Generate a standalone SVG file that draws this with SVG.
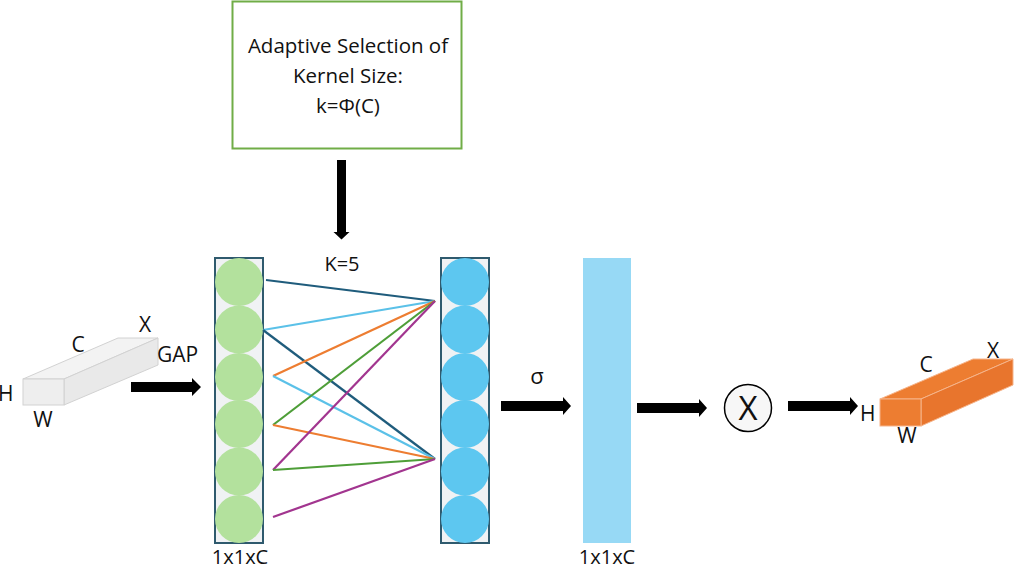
<svg xmlns="http://www.w3.org/2000/svg" width="1015" height="569" viewBox="0 0 1015 569">
<style>
  text { font-family: "Open Sans", "Liberation Sans", sans-serif; fill: #111; }
  .lbl { font-size: 21px; }
  .box { font-size: 20.5px; text-anchor: middle; }
  .dim { font-size: 20px; text-anchor: middle; }
  .col { fill: #F0F2F4; stroke: #2F5A6E; stroke-width: 2; }
  .g { fill: #B3E19D; }
  .b { fill: #5DC7F0; }
  .arr { fill: #000; }
  .ln { stroke-width: 2.2; fill: none; }
</style>
<rect width="1015" height="569" fill="#fff"/>

<g id="kernel-box">
  <rect x="232.5" y="1.5" width="229" height="147" fill="#fff" stroke="#70AD47" stroke-width="2"/>
  <text class="box" x="348" y="53">Adaptive Selection of</text>
  <text class="box" x="348" y="83">Kernel Size:</text>
  <text class="box" x="348" y="113">k=Φ(C)</text>
</g>

<g id="input-cube">
  <polygon points="23,379 118,338 158,338 64,379" fill="#F3F3F3" stroke="#D2D2D2" stroke-width="1"/>
  <polygon points="64,379 158,338 158,365 64,405" fill="#E9E9E9" stroke="#D2D2D2" stroke-width="1"/>
  <rect x="23" y="379" width="41" height="26" fill="#EEEEEE" stroke="#D2D2D2" stroke-width="1"/>
  <text class="lbl" x="-2" y="401">H</text>
  <text class="lbl" x="43" y="427" text-anchor="middle">W</text>
  <text class="lbl" x="78" y="352" text-anchor="middle">C</text>
  <text class="lbl" x="145" y="332" text-anchor="middle">X</text>
  <text class="lbl" x="157" y="362">GAP</text>
</g>

<g id="gap-vector">
  <rect class="col" x="215" y="258" width="48" height="285"/>
  <circle class="g" cx="239" cy="282" r="24"/>
  <circle class="g" cx="239" cy="329.5" r="24"/>
  <circle class="g" cx="239" cy="377" r="24"/>
  <circle class="g" cx="239" cy="424" r="24"/>
  <circle class="g" cx="239" cy="471.5" r="24"/>
  <circle class="g" cx="239" cy="519" r="24"/>
  <text class="dim" x="240" y="564">1x1xC</text>
</g>

<g id="conv-output">
  <rect class="col" x="441" y="258" width="48" height="285"/>
  <circle class="b" cx="465" cy="282" r="24"/>
  <circle class="b" cx="465" cy="329.5" r="24"/>
  <circle class="b" cx="465" cy="377" r="24"/>
  <circle class="b" cx="465" cy="424" r="24"/>
  <circle class="b" cx="465" cy="471.5" r="24"/>
  <circle class="b" cx="465" cy="519" r="24"/>
</g>

<g id="k-label">
  <text class="dim" x="342" y="271">K=5</text>
</g>

<g id="sigma-label">
  <text x="537" y="384" text-anchor="middle" style="font-size:22px">σ</text>
</g>

<g id="weights">
  <rect x="583" y="258" width="48" height="285" fill="#97D9F5"/>
  <text class="dim" x="607" y="564">1x1xC</text>
</g>

<g id="multiply">
  <circle cx="748" cy="408" r="23.5" fill="#F7F7F7" stroke="#000" stroke-width="1.5"/>
  <text x="748" y="420" text-anchor="middle" style="font-size:33px">X</text>
</g>

<g id="output-cube">
  <polygon points="880,399 973,359 1013,359 921,399" fill="#ED7D31" stroke="#F6B48A" stroke-width="1"/>
  <polygon points="921,399 1013,359 1013,385 921,426" fill="#E8752D" stroke="#F6B48A" stroke-width="1"/>
  <rect x="880" y="399" width="41" height="27" fill="#ED7D31" stroke="#F6B48A" stroke-width="1"/>
  <text class="lbl" x="860" y="421">H</text>
  <text class="lbl" x="907" y="443" text-anchor="middle">W</text>
  <text class="lbl" x="926" y="372" text-anchor="middle">C</text>
  <text class="lbl" x="993" y="358" text-anchor="middle">X</text>
</g>

<g id="connectors">
  <line class="ln" x1="266" y1="280" x2="435" y2="301" stroke="#1F5C7C"/>
  <line class="ln" x1="263" y1="330" x2="435" y2="301" stroke="#5BC1E8"/>
  <line class="ln" x1="263" y1="330" x2="435" y2="459" stroke="#1F5C7C"/>
  <line class="ln" x1="273" y1="376" x2="435" y2="301" stroke="#ED7D31"/>
  <line class="ln" x1="273" y1="376" x2="435" y2="459" stroke="#5BC1E8"/>
  <line class="ln" x1="273" y1="425" x2="435" y2="301" stroke="#4E9E38"/>
  <line class="ln" x1="273" y1="425" x2="435" y2="459" stroke="#ED7D31"/>
  <line class="ln" x1="273" y1="470" x2="435" y2="301" stroke="#A2358F"/>
  <line class="ln" x1="273" y1="470" x2="435" y2="459" stroke="#4E9E38"/>
  <line class="ln" x1="273" y1="517" x2="435" y2="459" stroke="#A2358F"/>

  <polygon class="arr" points="337,160 346,160 346,232 349.5,232 341.5,239.5 333.5,232 337,232"/>
  <polygon class="arr" points="131,382 192,382 192,378 201,387 192,396 192,392 131,392"/>
  <polygon class="arr" points="501,401 563,401 563,397 571,406 563,415 563,411 501,411"/>
  <polygon class="arr" points="637,403 699,403 699,399 707,408 699,417 699,413 637,413"/>
  <polygon class="arr" points="788,401 850,401 850,397 858,406 850,415 850,411 788,411"/>
</g>
</svg>
